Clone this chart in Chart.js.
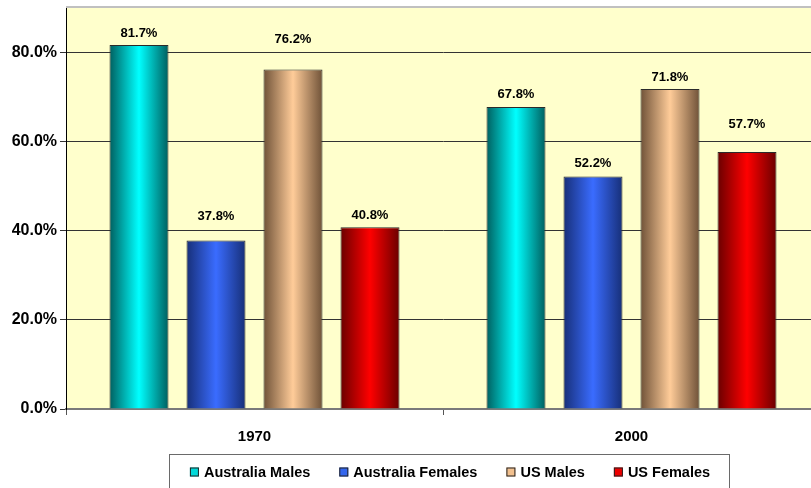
<!DOCTYPE html>
<html>
<head>
<meta charset="utf-8">
<script src="https://cdn.jsdelivr.net/npm/chart.js@4"></script>
<style>
  html, body { margin: 0; padding: 0; background: #fff; overflow: hidden; }
  #wrap { width: 811px; height: 488px; overflow: hidden; position: relative; }
</style>
</head>
<body>
<div id="wrap"><canvas id="myChart" width="822" height="488"></canvas></div>
<script>
// data (percent)
var years = ['1970', '2000'];
var seriesNames = ['Australia Males', 'Australia Females', 'US Males', 'US Females'];
var australiaMales = [81.7, 67.8];
var australiaFemales = [37.8, 52.2];
var usMales = [76.2, 71.8];
var usFemales = [40.8, 57.7];

// colours for the shaded bars: edge / middle
var edgeColors = ['#005f5f', '#172f78', '#6f5238', '#6a0000'];
var midColors = ['#00ffff', '#3a6cff', '#ffcc99', '#ff0000'];
var legendColors = ['#00d8d8', '#3366ee', '#f2c08e', '#ee0000'];

// how far each value label sits above its bar (px), per series / year
var labelLift = [[12, 12], [24, 13], [30, 12], [12, 27]];

var font = 'Liberation Sans, Arial, sans-serif';

var plotBackground = {
    id: 'plotBackground',
    beforeDraw: function(chart) {
        var c = chart.ctx, a = chart.chartArea;
        c.save();
        c.fillStyle = '#ffffcc';
        c.fillRect(a.left, a.top, a.right - a.left, a.bottom - a.top);
        c.strokeStyle = '#c0c0c0';
        c.lineWidth = 2;
        c.beginPath();
        c.moveTo(a.left, a.top - 1);
        c.lineTo(a.right, a.top - 1);
        c.stroke();
        c.restore();
    }
};

// cylinder-like shading on each bar
var barShading = {
    id: 'barShading',
    beforeDatasetsDraw: function(chart) {
        var c = chart.ctx;
        chart.data.datasets.forEach(function(ds, i) {
            chart.getDatasetMeta(i).data.forEach(function(bar) {
                var p = bar.getProps(['x', 'width'], true);
                var g = c.createLinearGradient(p.x - p.width / 2, 0, p.x + p.width / 2, 0);
                g.addColorStop(0, edgeColors[i]);
                g.addColorStop(0.5, midColors[i]);
                g.addColorStop(1, edgeColors[i]);
                bar.options = Object.assign({}, bar.options, { backgroundColor: g });
            });
        });
    }
};

var valueLabels = {
    id: 'valueLabels',
    afterDatasetsDraw: function(chart) {
        var c = chart.ctx;
        c.save();
        c.font = 'bold 13px ' + font;
        c.fillStyle = '#000';
        c.textAlign = 'center';
        c.textBaseline = 'middle';
        chart.data.datasets.forEach(function(ds, i) {
            chart.getDatasetMeta(i).data.forEach(function(bar, j) {
                c.fillText(ds.data[j].toFixed(1) + '%', bar.x, bar.y - labelLift[i][j]);
            });
        });
        c.restore();
    }
};

var boxedLegend = {
    id: 'boxedLegend',
    afterDraw: function(chart) {
        var c = chart.ctx;
        c.save();
        c.font = 'bold 14.5px ' + font;
        var gap = 29, sq = 9, sqGap = 5;
        var widths = seriesNames.map(function(n) { return c.measureText(n).width; });
        var total = widths.reduce(function(s, w) { return s + w + sq + sqGap; }, 0) + gap * 3;
        var x = 450 - total / 2, y = 472;
        c.fillStyle = '#fff';
        c.fillRect(169.5, 454.5, 560, 40);
        c.strokeStyle = '#6a6a6a';
        c.lineWidth = 1;
        c.strokeRect(169.5, 454.5, 560, 40);
        c.textBaseline = 'middle';
        seriesNames.forEach(function(n, i) {
            c.fillStyle = legendColors[i];
            c.fillRect(x, y - 4.5, sq, sq);
            c.strokeStyle = '#222';
            c.strokeRect(x + 0.5, y - 4, sq - 1, sq - 1);
            c.fillStyle = '#000';
            c.fillText(n, x + sq + sqGap, y + 1);
            x += sq + sqGap + widths[i] + gap;
        });
        c.restore();
    }
};

var ctx = document.getElementById('myChart').getContext('2d');
var myChart = new Chart(ctx, {
    type: 'bar',
    data: {
        labels: years,
        datasets: [
            { label: seriesNames[0], data: australiaMales },
            { label: seriesNames[1], data: australiaFemales },
            { label: seriesNames[2], data: usMales },
            { label: seriesNames[3], data: usFemales }
        ].map(function(d, i) {
            return Object.assign(d, {
                backgroundColor: midColors[i],
                borderColor: '#2a2a2a',
                borderWidth: 1,
                categoryPercentage: 0.817,
                barPercentage: 0.766
            });
        })
    },
    options: {
        responsive: false,
        animation: false,
        layout: { padding: { top: 8, right: 2, left: 0, bottom: 0 } },
        plugins: {
            legend: { display: false },
            tooltip: { enabled: false }
        },
        scales: {
            x: {
                grid: { offset: true, drawOnChartArea: false, tickLength: 6, color: '#555' },
                border: { color: '#7a7a7a', width: 2 },
                ticks: { font: { family: font, size: 15, weight: 'bold' }, color: '#000', padding: 13 },
                afterFit: function(s) { s.height = 79; s.paddingLeft = 0; s.paddingRight = 0; }
            },
            y: {
                min: 0,
                max: 90,
                grid: { color: '#333', tickLength: 6 },
                border: { color: '#000', width: 1 },
                ticks: {
                    stepSize: 20,
                    includeBounds: false,
                    padding: 3,
                    color: '#000',
                    font: { family: font, size: 16, weight: 'bold' },
                    callback: function(v) { return v.toFixed(1) + '%'; }
                },
                afterFit: function(s) { s.width = 66; s.paddingTop = 0; s.paddingBottom = 0; }
            }
        }
    },
    plugins: [plotBackground, barShading, valueLabels, boxedLegend]
});
</script>
</body>
</html>
